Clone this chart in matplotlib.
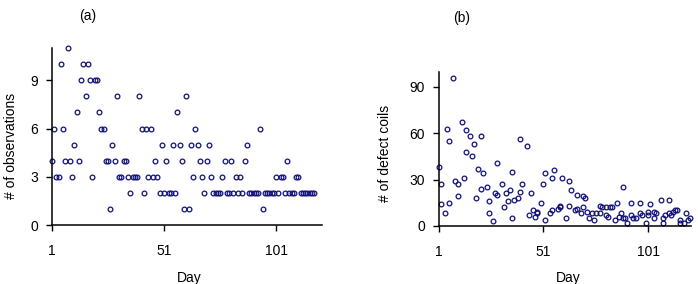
import numpy as np
import matplotlib.pyplot as plt

plt.rcParams['font.family'] = ['Liberation Sans', 'DejaVu Sans']

# (a) number of observations, one value per day starting at day 1
obs_a = [4, 6, 3, 3, 10, 6, 4, 11, 4, 3, 5, 7, 4, 9, 10, 8, 10, 9, 3, 9,
         9, 7, 6, 6, 4, 4, 1, 5, 4, 8, 3, 3, 4, 4, 3, 2, 3, 3, 3, 8,
         6, 2, 6, 3, 6, 3, 4, 3, 2, 5, 2, 4, 2, 2, 5, 2, 7, 5, 4, 1,
         8, 1, 5, 3, 6, 5, 4, 3, 2, 4, 5, 3, 2, 2, 2, 2, 3, 4, 2, 2,
         4, 2, 3, 2, 3, 2, 4, 5, 2, 2, 2, 2, 2, 6, 1, 2, 2, 2, 2, 2,
         3, 2, 3, 3, 2, 4, 2, 2, 2, 3, 3, 2, 2, 2, 2, 2, 2, 2]
days_a = list(range(1, len(obs_a) + 1))

# (b) number of defect coils
days_b = [1, 2, 2, 4, 5, 6, 6, 8, 9, 10, 10, 12, 13, 14, 14, 16, 17, 18, 19, 20,
          21, 21, 22, 24, 25, 25, 27, 28, 29, 29, 31, 32, 33, 34, 35, 36, 36, 37, 39, 40,
          40, 41, 43, 44, 45, 46, 47, 48, 48, 50, 51, 52, 52, 54, 55, 55, 56, 58, 59, 59,
          60, 62, 63, 63, 64, 66, 67, 67, 69, 70, 70, 71, 72, 73, 74, 75, 76, 78, 78, 79,
          81, 81, 82, 83, 84, 85, 86, 87, 88, 89, 89, 90, 91, 93, 93, 94, 95, 97, 97, 98,
          100, 101, 101, 102, 104, 104, 105, 107, 108, 108, 109, 111, 111, 112, 113, 114, 115, 116, 116, 118,
          119, 120, 121]
coils_b = [38, 27, 14, 8, 63, 55, 15, 96, 29, 19, 27, 67, 31, 48, 62, 58, 45, 53, 18, 37,
           58, 24, 34, 25, 16, 8, 3, 21, 20, 41, 27, 12, 21, 16, 23, 35, 5, 17, 18, 56,
           22, 27, 52, 7, 21, 10, 6, 9, 8, 15, 27, 34, 4, 8, 31, 10, 36, 11, 13, 12,
           31, 5, 13, 29, 23, 10, 11, 20, 8, 12, 19, 18, 9, 5, 8, 4, 8, 8, 13, 12,
           7, 12, 6, 12, 12, 4, 15, 6, 8, 25, 5, 5, 2, 7, 15, 5, 5, 15, 8, 7,
           2, 9, 7, 14, 9, 5, 8, 17, 2, 5, 7, 17, 8, 7, 9, 10, 10, 4, 2, 2,
           8, 4, 5]

x_ticks = [1, 51, 101]
navy = '#10107a'


def style_axis(ax, yticks, ylim):
    ax.set_xlim(1, 121.5)
    ax.set_ylim(*ylim)
    ax.set_xticks(x_ticks)
    ax.set_yticks(yticks)
    ax.spines['top'].set_visible(False)
    ax.spines['right'].set_visible(False)
    for s in ['left', 'bottom']:
        ax.spines[s].set_linewidth(1.1)
    ax.tick_params(axis='x', direction='out', length=4, width=1, pad=10, labelsize=10)
    ax.tick_params(axis='y', direction='out', length=4, width=1, pad=6, labelsize=10)


fig = plt.figure(figsize=(6.98, 2.84), dpi=100)

ax1 = fig.add_axes([0.0745, 0.2077, 0.3868, 0.623])
ax1.plot(days_a, obs_a, 'o', ms=3.4, mfc='none', mec=navy, mew=0.9, clip_on=False)
style_axis(ax1, [0, 3, 6, 9], (0, 11))
ax1.set_xlabel('Day', fontsize=10)
ax1.set_ylabel('# of observations', fontsize=10)
ax1.xaxis.set_label_coords(0.507, -0.26)
ax1.yaxis.set_label_coords(-0.126, 0.446)

ax2 = fig.add_axes([0.6285, 0.205, 0.3615, 0.543])
ax2.plot(days_b, coils_b, 'o', ms=3.4, mfc='none', mec=navy, mew=0.9, clip_on=False)
style_axis(ax2, [0, 30, 60, 90], (0, 100))
ax2.set_xlabel('Day', fontsize=10)
ax2.set_ylabel('# of defect coils', fontsize=10)
ax2.xaxis.set_label_coords(0.512, -0.294)
ax2.yaxis.set_label_coords(-0.185, 0.471)

fig.text(88 / 698, 1 - 16 / 284, '(a)', ha='center', va='center', fontsize=10)
fig.text(462 / 698, 1 - 18 / 284, '(b)', ha='center', va='center', fontsize=10)

fig.savefig('out.png', dpi=100)
